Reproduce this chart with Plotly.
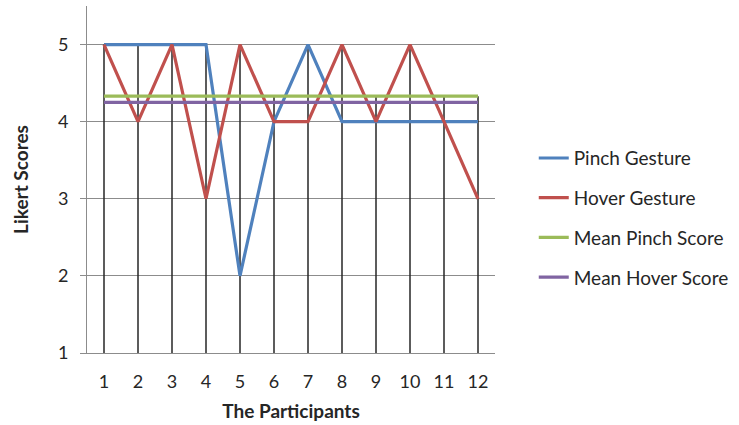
import plotly.graph_objects as go

participants = list(range(1, 13))
pinch_gesture = [5, 5, 5, 5, 2, 4, 5, 4, 4, 4, 4, 4]
hover_gesture = [5, 4, 5, 3, 5, 4, 4, 5, 4, 5, 4, 3]
mean_pinch = [4.33] * 12
mean_hover = [4.25] * 12

series = [
    ("Pinch Gesture", pinch_gesture, "#4F81BD"),
    ("Hover Gesture", hover_gesture, "#C0504D"),
    ("Mean Pinch Score", mean_pinch, "#9BBB59"),
    ("Mean Hover Score", mean_hover, "#8064A2"),
]

FONT = "Lato, 'Open Sans', sans-serif"

fig = go.Figure()

# drop lines from the highest point at each category down to the axis
dx, dy = [], []
for i, p in enumerate(participants):
    top = max(s[1][i] for s in series)
    dx += [p, p, None]
    dy += [1, top, None]
fig.add_trace(go.Scatter(x=dx, y=dy, mode="lines", line=dict(color="#262626", width=1.5),
                         showlegend=False, hoverinfo="skip"))

for name, vals, col in series:
    fig.add_trace(go.Scatter(x=participants, y=vals, mode="lines", name=name,
                             legendgroup=name,
                             line=dict(color=col, width=3.2)))

fig.update_layout(
    width=739, height=425,
    margin=dict(l=87, r=244, t=6, b=72, autoexpand=False),
    paper_bgcolor="white", plot_bgcolor="white",
    font=dict(family=FONT, size=18, color="#262626"),
    legend=dict(x=1.095, y=0.39, xanchor="left", yanchor="middle",
                font=dict(size=19, color="#262626"), tracegroupgap=12,
                bgcolor="rgba(0,0,0,0)"),
    xaxis=dict(range=[0.5, 12.5], tickmode="array", tickvals=participants,
               ticktext=[str(p) for p in participants], automargin=False,
               showgrid=False, zeroline=False, showline=True, linecolor="#8c8c8c",
               linewidth=1, ticks="", tickfont=dict(size=18), ticklabelstandoff=12,
               title=dict(text="<b>The Participants</b>", font=dict(size=19), standoff=14)),
    yaxis=dict(range=[1, 5.5], tickvals=[1, 2, 3, 4, 5], showgrid=True, automargin=False,
               gridcolor="#8c8c8c", gridwidth=1, zeroline=False, showline=True,
               linecolor="#8c8c8c", linewidth=1, ticks="outside", ticklen=6,
               tickcolor="#8c8c8c", tickfont=dict(size=18), ticklabelstandoff=8,
               title=dict(text="<b>Likert Scores</b>", font=dict(size=19), standoff=24)),
)

fig.write_html("out.html", config={"displayModeBar": False},
               post_script="document.body.style.margin='0';")
